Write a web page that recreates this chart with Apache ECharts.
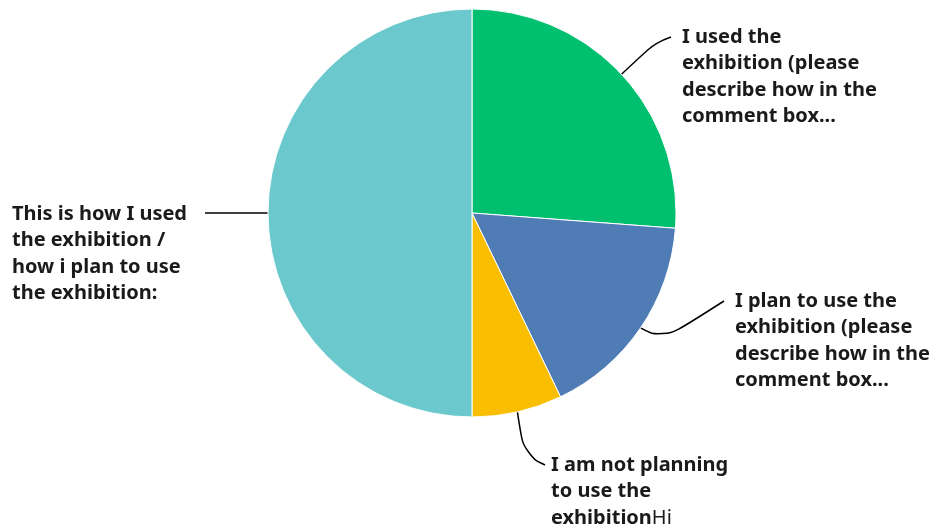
<!DOCTYPE html>
<html>
<head>
<meta charset="utf-8">
<script src="https://cdn.jsdelivr.net/npm/echarts@6/dist/echarts.min.js"></script>
<style>html,body{margin:0;padding:0;background:#fff}#c{width:938px;height:528px}</style>
</head>
<body>
<div id="c"></div>
<script>
// Data
var categories = [
  'I used the exhibition (please describe how in the comment box...',
  'I plan to use the exhibition (please describe how in the comment box...',
  'I am not planning to use the exhibitionHi',
  'This is how I used the exhibition / how i plan to use the exhibition:'
];
var labelTexts = [
  'I used the\nexhibition (please\ndescribe how in the\ncomment box...',
  'I plan to use the\nexhibition (please\ndescribe how in the\ncomment box...',
  'I am not planning\nto use the\nexhibition{n|Hi}',
  'This is how I used\nthe exhibition /\nhow i plan to use\nthe exhibition:'
];
var values = [11, 7, 3, 21];

// Styles / layout
var colors = ['#00BF6F', '#507CB6', '#F9BE00', '#6BC8CD'];
var labelBoxes = [
  {x: 682, y: 24, mid: [656, 42], end: [671, 37]},
  {x: 735, y: 288, mid: [663, 340], end: [724, 301]},
  {x: 551, y: 452, mid: [524, 455], end: [545, 465]},
  {x: 12, y: 201, mid: null, end: [205, 213]}
];

var chart = echarts.init(document.getElementById('c'), null, {renderer: 'canvas'});
chart.setOption({
  animation: false,
  series: [{
    type: 'pie',
    center: [472, 213],
    radius: 204,
    startAngle: 90,
    clockwise: true,
    data: values.map(function (v, i) {
      return {value: v, name: categories[i], itemStyle: {color: colors[i]}};
    }),
    itemStyle: {borderColor: '#fff', borderWidth: 1},
    label: {
      show: true,
      position: 'outside',
      formatter: function (p) { return labelTexts[p.dataIndex]; },
      fontFamily: 'Noto Sans',
      fontSize: 20,
      fontWeight: 'bold',
      lineHeight: 26.5,
      color: '#1a1a1a',
      rich: {
        n: {fontFamily: 'Noto Sans', fontSize: 20, fontWeight: 'normal', color: '#1a1a1a', lineHeight: 26.5}
      }
    },
    labelLine: {
      show: true,
      smooth: 0.5,
      lineStyle: {color: '#000', width: 1.5}
    },
    labelLayout: function (params) {
      var b = labelBoxes[params.dataIndex];
      var start = params.labelLinePoints[0];
      var pts = b.mid ? [start, b.mid, b.end] : [start, b.end];
      return {
        x: b.x,
        y: b.y,
        align: 'left',
        verticalAlign: 'top',
        labelLinePoints: pts
      };
    }
  }]
});
</script>
</body>
</html>
